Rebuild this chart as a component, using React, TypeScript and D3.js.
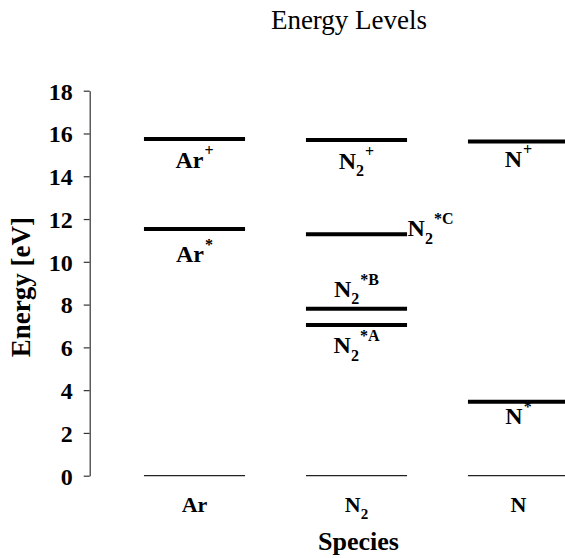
import React, { useEffect, useRef } from "react";
import * as d3 from "d3";

const species = ["Ar", "N2", "N"];
const groundEnergy = [0, 0, 0];

const levelNames = ["Ar+", "Ar*", "N2+", "N2*C", "N2*B", "N2*A", "N+", "N*"];
const levelSpecies = ["Ar", "Ar", "N2", "N2", "N2", "N2", "N", "N"];
const levelEnergy = [15.74, 11.53, 15.69, 11.29, 7.8, 7.04, 15.63, 3.46];
const levelBase = ["Ar", "Ar", "N", "N", "N", "N", "N", "N"];
const levelSub = ["", "", "2", "2", "2", "2", "", ""];
const levelSup = ["+", "*", "+", "*C", "*B", "*A", "+", "*"];

const yTicks = [0, 2, 4, 6, 8, 10, 12, 14, 16, 18];

const FONT = "'Liberation Serif', 'Times New Roman', serif";

// where each level label sits relative to its line
const placement: Record<string, { pos: string; dy: number }> = {
  "Ar+": { pos: "below", dy: 28.5 },
  "Ar*": { pos: "below", dy: 32.5 },
  "N2+": { pos: "below", dy: 28.5 },
  "N2*C": { pos: "right", dy: 2 },
  "N2*B": { pos: "above", dy: -12 },
  "N2*A": { pos: "below", dy: 28 },
  "N+": { pos: "below", dy: 26 },
  "N*": { pos: "below", dy: 22.5 },
};

const App = () => {
  const axisRef = useRef<SVGGElement>(null);

  const width = 565;
  const height = 558;
  const axisX = 89.7;

  const x = d3.scaleBand().domain(species).range([113.5, 599.5]).padding(0);
  const y = d3.scaleLinear().domain([0, 18]).range([475.7, 90.7]);
  const halfLine = x.bandwidth() * 0.312;
  const cx = (s: string) => (x(s) as number) + x.bandwidth() / 2;

  useEffect(() => {
    const g = d3.select(axisRef.current);
    g.selectAll("*").remove();
    g.call(
      d3
        .axisLeft(y)
        .tickValues(yTicks)
        .tickSize(6)
        .tickSizeOuter(0)
        .tickPadding(11)
    );
    g.select(".domain").attr("stroke", "#333").attr("stroke-width", 1.2);
    g.selectAll(".tick line").attr("stroke", "#333").attr("stroke-width", 1.2);
    g.selectAll(".tick text")
      .attr("fill", "#000")
      .attr("font-family", FONT)
      .attr("font-weight", "bold")
      .attr("font-size", 24)
      .attr("dy", "0.35em");
  }, []);

  return (
    <svg
      width={width}
      height={height}
      style={{ position: "absolute", left: 0, top: 0, background: "#fff" }}
    >
      <text
        x={349}
        y={29}
        textAnchor="middle"
        fontFamily={FONT}
        fontSize={27}
        fill="#000"
      >
        Energy Levels
      </text>

      <g ref={axisRef} transform={`translate(${axisX},0)`} />

      <text
        transform={`translate(30,${(y(0) + y(18)) / 2 + 4}) rotate(-90)`}
        textAnchor="middle"
        fontFamily={FONT}
        fontWeight="bold"
        fontSize={27}
        fill="#000"
      >
        Energy [eV]
      </text>

      {/* ground state lines */}
      {species.map((s, i) => (
        <line
          key={`g-${s}`}
          x1={cx(s) - halfLine}
          x2={cx(s) + halfLine}
          y1={y(groundEnergy[i])}
          y2={y(groundEnergy[i])}
          stroke="#222"
          strokeWidth={1.2}
        />
      ))}

      {/* excited / ionized levels */}
      {levelNames.map((name, i) => {
        const s = levelSpecies[i];
        const ly = y(levelEnergy[i]);
        const p = placement[name];
        const right = p.pos === "right";
        const tx = right ? cx(s) + halfLine + 0.5 : cx(s);
        return (
          <g key={name}>
            <line
              x1={cx(s) - halfLine}
              x2={cx(s) + halfLine}
              y1={ly}
              y2={ly}
              stroke="#000"
              strokeWidth={4}
            />
            <text
              x={tx}
              y={ly + p.dy}
              textAnchor={right ? "start" : "middle"}
              fontFamily={FONT}
              fontWeight="bold"
              fontSize={24}
              fill="#000"
            >
              <tspan>{levelBase[i]}</tspan>
              {levelSub[i] && (
                <tspan dy={7.5} fontSize={16}>
                  {levelSub[i]}
                </tspan>
              )}
              <tspan
                dy={levelSub[i] ? -19.5 : -12}
                dx={1}
                fontSize={16}
              >
                {levelSup[i]}
              </tspan>
            </text>
          </g>
        );
      })}

      {/* category labels */}
      {species.map((s) => (
        <text
          key={`c-${s}`}
          x={cx(s)}
          y={511.7}
          textAnchor="middle"
          fontFamily={FONT}
          fontWeight="bold"
          fontSize={22}
          fill="#000"
        >
          {s === "N2" ? (
            <>
              <tspan>N</tspan>
              <tspan dy={7} fontSize={15}>
                2
              </tspan>
            </>
          ) : (
            s
          )}
        </text>
      ))}

      <text
        x={358.5}
        y={550}
        textAnchor="middle"
        fontFamily={FONT}
        fontWeight="bold"
        fontSize={26}
        fill="#000"
      >
        Species
      </text>
    </svg>
  );
};

export default App;
